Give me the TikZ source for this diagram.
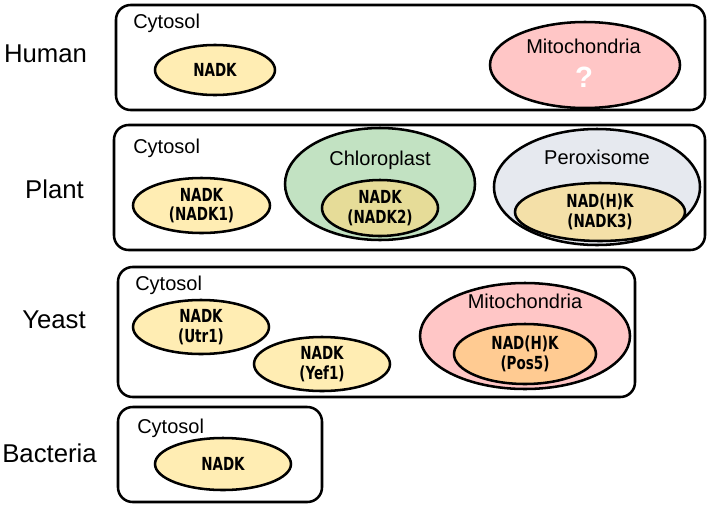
\documentclass[tikz,border=0pt]{standalone}
\usepackage{fontspec}
\setmainfont{Liberation Sans}
\newfontfamily\enzfont[FakeStretch=0.75]{DejaVu Sans}
\usetikzlibrary{shapes.geometric}
\definecolor{enzY}{HTML}{FFEDB3}
\definecolor{mitoP}{HTML}{FFC6C6}
\definecolor{chlG}{HTML}{C2E2C2}
\definecolor{enzO}{HTML}{E6DC98}
\definecolor{perG}{HTML}{E6E9EF}
\definecolor{enzP}{HTML}{F4E0A8}
\definecolor{enzOr}{HTML}{FFCB92}
\tikzset{
  org/.style={draw, line width=1.9pt, rounded corners=11pt},
  ell/.style={draw, line width=1.9pt, ellipse, inner sep=0pt},
  enz/.style={font=\enzfont\bfseries\fontsize{13.5}{14.8}\selectfont, align=center},
  cyt/.style={font=\fontsize{15}{17}\selectfont, anchor=base west, inner sep=0pt},
  comp/.style={font=\fontsize{15}{17}\selectfont, anchor=base, inner sep=0pt},
  kingdom/.style={font=\fontsize{19.3}{22}\selectfont, anchor=base, inner sep=0pt}
}
\begin{document}
\begin{tikzpicture}[x=0.75pt,y=-0.75pt]
\useasboundingbox (0,0) rectangle (707,504);
% Human
\draw[org] (116,5) rectangle (705,110);
\node[kingdom] (human) at (45.5,62) {Human};
\node[cyt] (hcyt) at (133,28) {Cytosol};
\node[ell, fill=enzY, minimum width=120*0.75pt, minimum height=50*0.75pt] (hnadk) at (215,70) {};
\node[enz] at (hnadk) {NADK};
\node[ell, fill=mitoP, minimum width=190*0.75pt, minimum height=86*0.75pt] (hmito) at (585,65) {};
\node[comp] (hmitot) at (583.5,53) {Mitochondria};
\node[text=white, font=\bfseries\fontsize{22}{24}\selectfont] (hq) at (584,77) {?};
% Plant
\draw[org] (114,125) rectangle (705,250);
\node[kingdom] (plant) at (54.5,198) {Plant};
\node[cyt] (pcyt) at (133,153) {Cytosol};
\node[ell, fill=enzY, minimum width=137*0.75pt, minimum height=55*0.75pt] (pn1) at (201.5,205.5) {};
\node[enz] at (pn1) {NADK\\(NADK1)};
\node[ell, fill=chlG, minimum width=190*0.75pt, minimum height=112*0.75pt] (chl) at (380,184) {};
\node[comp] (chlt) at (380,165) {Chloroplast};
\node[ell, fill=enzO, minimum width=116*0.75pt, minimum height=56*0.75pt] (pn2) at (380,208) {};
\node[enz] at (pn2) {NADK\\(NADK2)};
\node[ell, fill=perG, minimum width=206*0.75pt, minimum height=116*0.75pt] (per) at (597,187) {};
\node[comp] (pert) at (597,164) {Peroxisome};
\node[ell, fill=enzP, minimum width=170*0.75pt, minimum height=58*0.75pt] (pn3) at (600,212) {};
\node[enz] at (pn3) {NAD(H)K\\(NADK3)};
% Yeast
\draw[org] (118,267) rectangle (635,397);
\node[kingdom] (yeast) at (54,328) {Yeast};
\node[cyt] (ycyt) at (135,290) {Cytosol};
\node[ell, fill=enzY, minimum width=136*0.75pt, minimum height=54*0.75pt] (yutr) at (201,327) {};
\node[enz] at (yutr) {NADK\\(Utr1)};
\node[ell, fill=enzY, minimum width=136*0.75pt, minimum height=54*0.75pt] (yyef) at (322,364) {};
\node[enz] at (yyef) {NADK\\(Yef1)};
\node[ell, fill=mitoP, minimum width=210*0.75pt, minimum height=106*0.75pt] (ymito) at (525,336) {};
\node[comp] (ymitot) at (525,308) {Mitochondria};
\node[ell, fill=enzOr, minimum width=142*0.75pt, minimum height=60*0.75pt] (ypos) at (525,354) {};
\node[enz] at (ypos) {NAD(H)K\\(Pos5)};
% Bacteria
\draw[org] (118,407) rectangle (322,502);
\node[kingdom] (bact) at (49.5,462) {Bacteria};
\node[cyt] (bcyt) at (137,433) {Cytosol};
\node[ell, fill=enzY, minimum width=136*0.75pt, minimum height=52*0.75pt] (bnadk) at (223,464) {};
\node[enz] at (bnadk) {NADK};
\end{tikzpicture}
\end{document}
